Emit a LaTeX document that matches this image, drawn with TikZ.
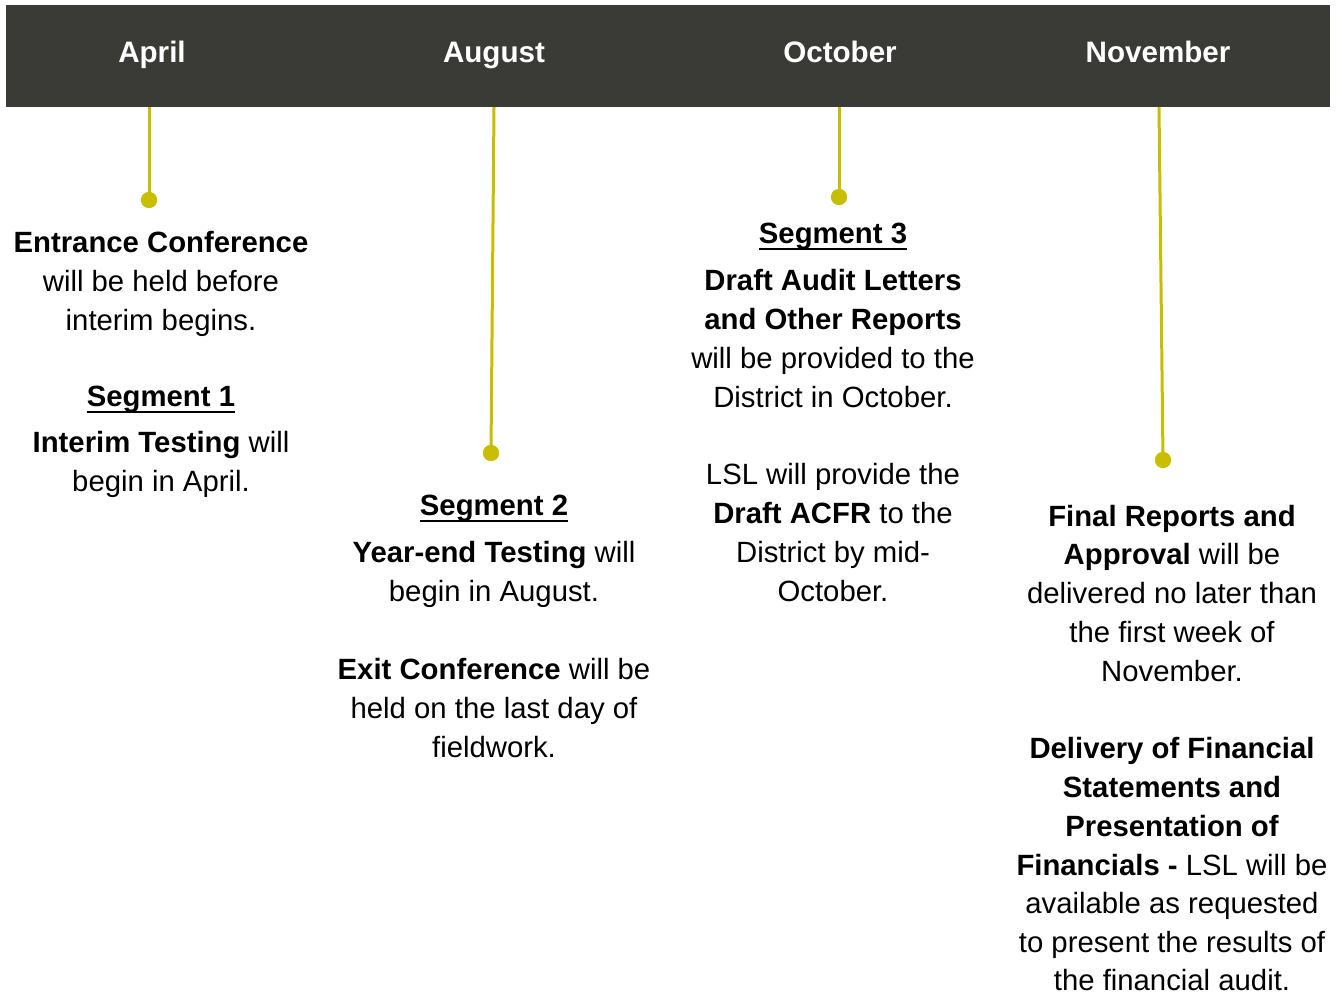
\documentclass[tikz,border=0pt]{standalone}
\usepackage{fontspec}
\setmainfont{Liberation Sans}
\definecolor{bandgray}{RGB}{58,59,55}
\definecolor{olive}{RGB}{200,190,0}
\newcommand\segul[1]{\setbox0\hbox{\bfseries #1}\rlap{\rule[-7.2pt]{\wd0}{2.4pt}}\box0}
\begin{document}
\begin{tikzpicture}[x=1pt,y=-1pt,
  txt/.style={anchor=base,inner sep=0pt,font=\fontsize{29.3}{39}\selectfont,text=black},
  month/.style={anchor=base,inner sep=0pt,font=\fontsize{29.6}{34}\selectfont\bfseries,text=white},
  stem/.style={draw=olive,line width=3pt},
  dotmark/.style={circle,fill=olive,inner sep=0pt,minimum size=16pt}]
\useasboundingbox (0,0) rectangle (1338,996);
\fill[bandgray] (6,5) rectangle (1330,107);
% month labels
\node[month] (mA) at (152,62) {April};
\node[month] (mB) at (494,62) {August};
\node[month] (mC) at (840,62) {October};
\node[month] (mD) at (1158,62) {November};
% stems
\coordinate (tA) at (149,107);
\coordinate (tB) at (494,107);
\coordinate (tC) at (839,107);
\coordinate (tD) at (1159,107);
\node[dotmark] (dA) at (149,200) {};
\node[dotmark] (dB) at (491,453) {};
\node[dotmark] (dC) at (839,197) {};
\node[dotmark] (dD) at (1163,460) {};
\draw[stem] (tA) -- (dA.center);
\draw[stem] (tB) -- (dB.center);
\draw[stem] (tC) -- (dC.center);
\draw[stem] (tD) -- (dD.center);
\node[dotmark] at (dA.center) {};
\node[dotmark] at (dB.center) {};
\node[dotmark] at (dC.center) {};
\node[dotmark] at (dD.center) {};
% April column
\node[txt] (a1) at (161,252) {\bfseries Entrance Conference};
\node[txt] (a2) at (161,291) {will be held before};
\node[txt] (a3) at (161,330) {interim begins.};
\node[txt] (a4) at (161,406) {\segul{Segment 1}};
\node[txt] (a5) at (161,452) {\textbf{Interim Testing} will};
\node[txt] (a6) at (161,491) {begin in April.};
% August column
\node[txt] (b1) at (494,515) {\segul{Segment 2}};
\node[txt] (b2) at (494,562) {\textbf{Year-end Testing} will};
\node[txt] (b3) at (494,601) {begin in August.};
\node[txt] (b4) at (494,679) {\textbf{Exit Conference} will be};
\node[txt] (b5) at (494,718) {held on the last day of};
\node[txt] (b6) at (494,757) {fieldwork.};
% October column
\node[txt] (c1) at (833,243) {\segul{Segment 3}};
\node[txt] (c2) at (833,290) {\bfseries Draft Audit Letters};
\node[txt] (c3) at (833,329) {\bfseries and Other Reports};
\node[txt] (c4) at (833,368) {will be provided to the};
\node[txt] (c5) at (833,407) {District in October.};
\node[txt] (c6) at (833,484) {LSL will provide the};
\node[txt] (c7) at (833,523) {\textbf{Draft ACFR} to the};
\node[txt] (c8) at (833,562) {District by mid-};
\node[txt] (c9) at (833,601) {October.};
% November column
\node[txt] (d1) at (1172,526) {\bfseries Final Reports and};
\node[txt] (d2) at (1172,564) {\textbf{Approval} will be};
\node[txt] (d3) at (1172,603) {delivered no later than};
\node[txt] (d4) at (1172,642) {the first week of};
\node[txt] (d5) at (1172,681) {November.};
\node[txt] (d6) at (1172,758) {\bfseries Delivery of Financial};
\node[txt] (d7) at (1172,797) {\bfseries Statements and};
\node[txt] (d8) at (1172,836) {\bfseries Presentation of};
\node[txt] (d9) at (1172,875) {\textbf{Financials -} LSL will be};
\node[txt] (d10) at (1172,913) {available as requested};
\node[txt] (d11) at (1172,952) {to present the results of};
\node[txt] (d12) at (1172,990) {the financial audit.};
\end{tikzpicture}
\end{document}
